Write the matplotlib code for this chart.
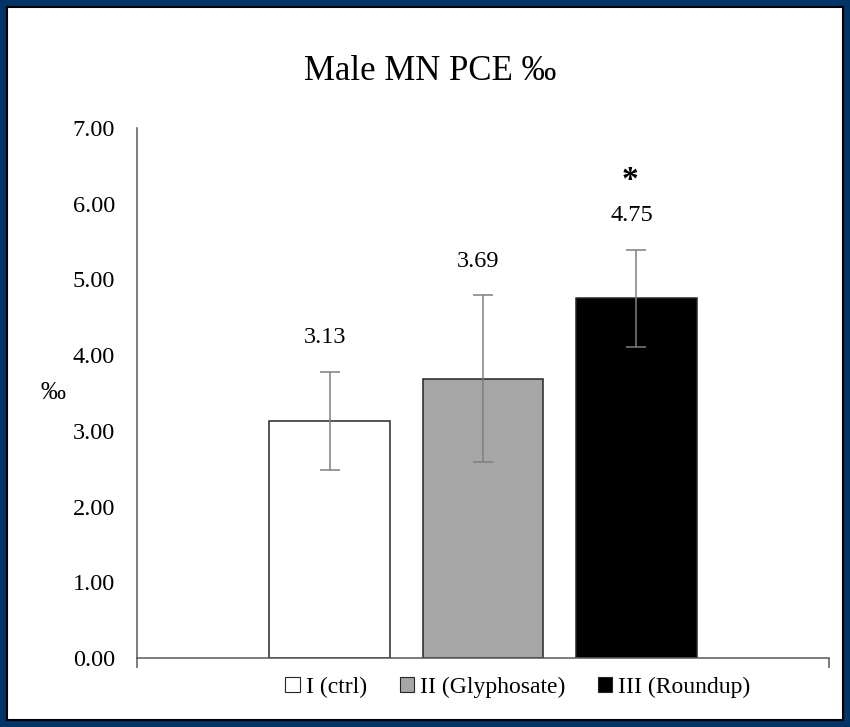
import matplotlib.pyplot as plt
from matplotlib.patches import Rectangle, Patch
import numpy as np

# Data
groups = ["I (ctrl)", "II (Glyphosate)", "III (Roundup)"]
means = [3.13, 3.69, 4.75]
errors = [0.65, 1.10, 0.64]
value_labels = ["3.13", "3.69", "4.75"]
stars = ["", "", "*"]
colors = ["#ffffff", "#a6a6a6", "#000000"]

plt.rcParams['font.family'] = ['Liberation Serif', 'DejaVu Serif']

W, H = 850, 727
fig = plt.figure(figsize=(W / 100, H / 100), dpi=100)
fig.patch.set_facecolor("#003366")

# inner white panel with thin black edge
bw = 7
fig.patches.append(Rectangle((bw / W, bw / H), 1 - 2 * bw / W, 1 - 2 * bw / H,
                             transform=fig.transFigure, facecolor="white",
                             edgecolor="black", linewidth=1.5, zorder=-5))

ax = fig.add_axes([137 / W, 1 - 658 / H, 692 / W, 530 / H])
ax.set_facecolor("none")
ax.set_zorder(2)

x = np.arange(len(groups)) - 1
ax.bar(x, means, width=0.79, color=colors, edgecolor="#262626", linewidth=1.1, zorder=2)
ax.errorbar(x, means, yerr=errors, fmt="none", ecolor="#7f7f7f", elinewidth=1.1,
            capsize=7, capthick=1.1, zorder=3)

for xi, m, e, lab, st in zip(x, means, errors, value_labels, stars):
    ax.text(xi - 0.03, m + e + 0.45, lab, ha="center", va="center", fontsize=17.5)
    if st:
        ax.text(xi - 0.04, m + e + 0.92, st, ha="center", va="center",
                fontsize=24, fontweight="bold")

ax.set_xlim(-2.26, 2.26)
ax.set_ylim(0, 7)
ax.set_yticks(np.arange(0, 8, 1))
ax.set_yticklabels([f"{v:.2f}" for v in np.arange(0, 8, 1)], fontsize=17.5)
ax.tick_params(axis="y", length=0, pad=16)
ax.set_xticks([-2.26, 2.26])
ax.set_xticklabels([])
ax.tick_params(axis="x", length=7, width=1.1, color="#595959", direction="out")

for s in ["top", "right"]:
    ax.spines[s].set_visible(False)
for s in ["left", "bottom"]:
    ax.spines[s].set_color("#595959")
    ax.spines[s].set_linewidth(1.1)

ax.set_ylabel("‰", rotation=0, fontsize=18, va="center", labelpad=14)

fig.text(430 / W, 1 - 72 / H, "Male MN PCE ‰", ha="center", va="center", fontsize=25)

handles = [Patch(facecolor=c, edgecolor="#262626", linewidth=0.8) for c in colors]
fig.legend(handles, groups, loc="center", bbox_to_anchor=(518 / W, 1 - 687 / H),
           ncol=3, frameon=False, fontsize=17, handlelength=0.6, handleheight=0.6,
           handletextpad=0.25, columnspacing=1.4)

fig.savefig("out.png", dpi=100, facecolor=fig.get_facecolor())
